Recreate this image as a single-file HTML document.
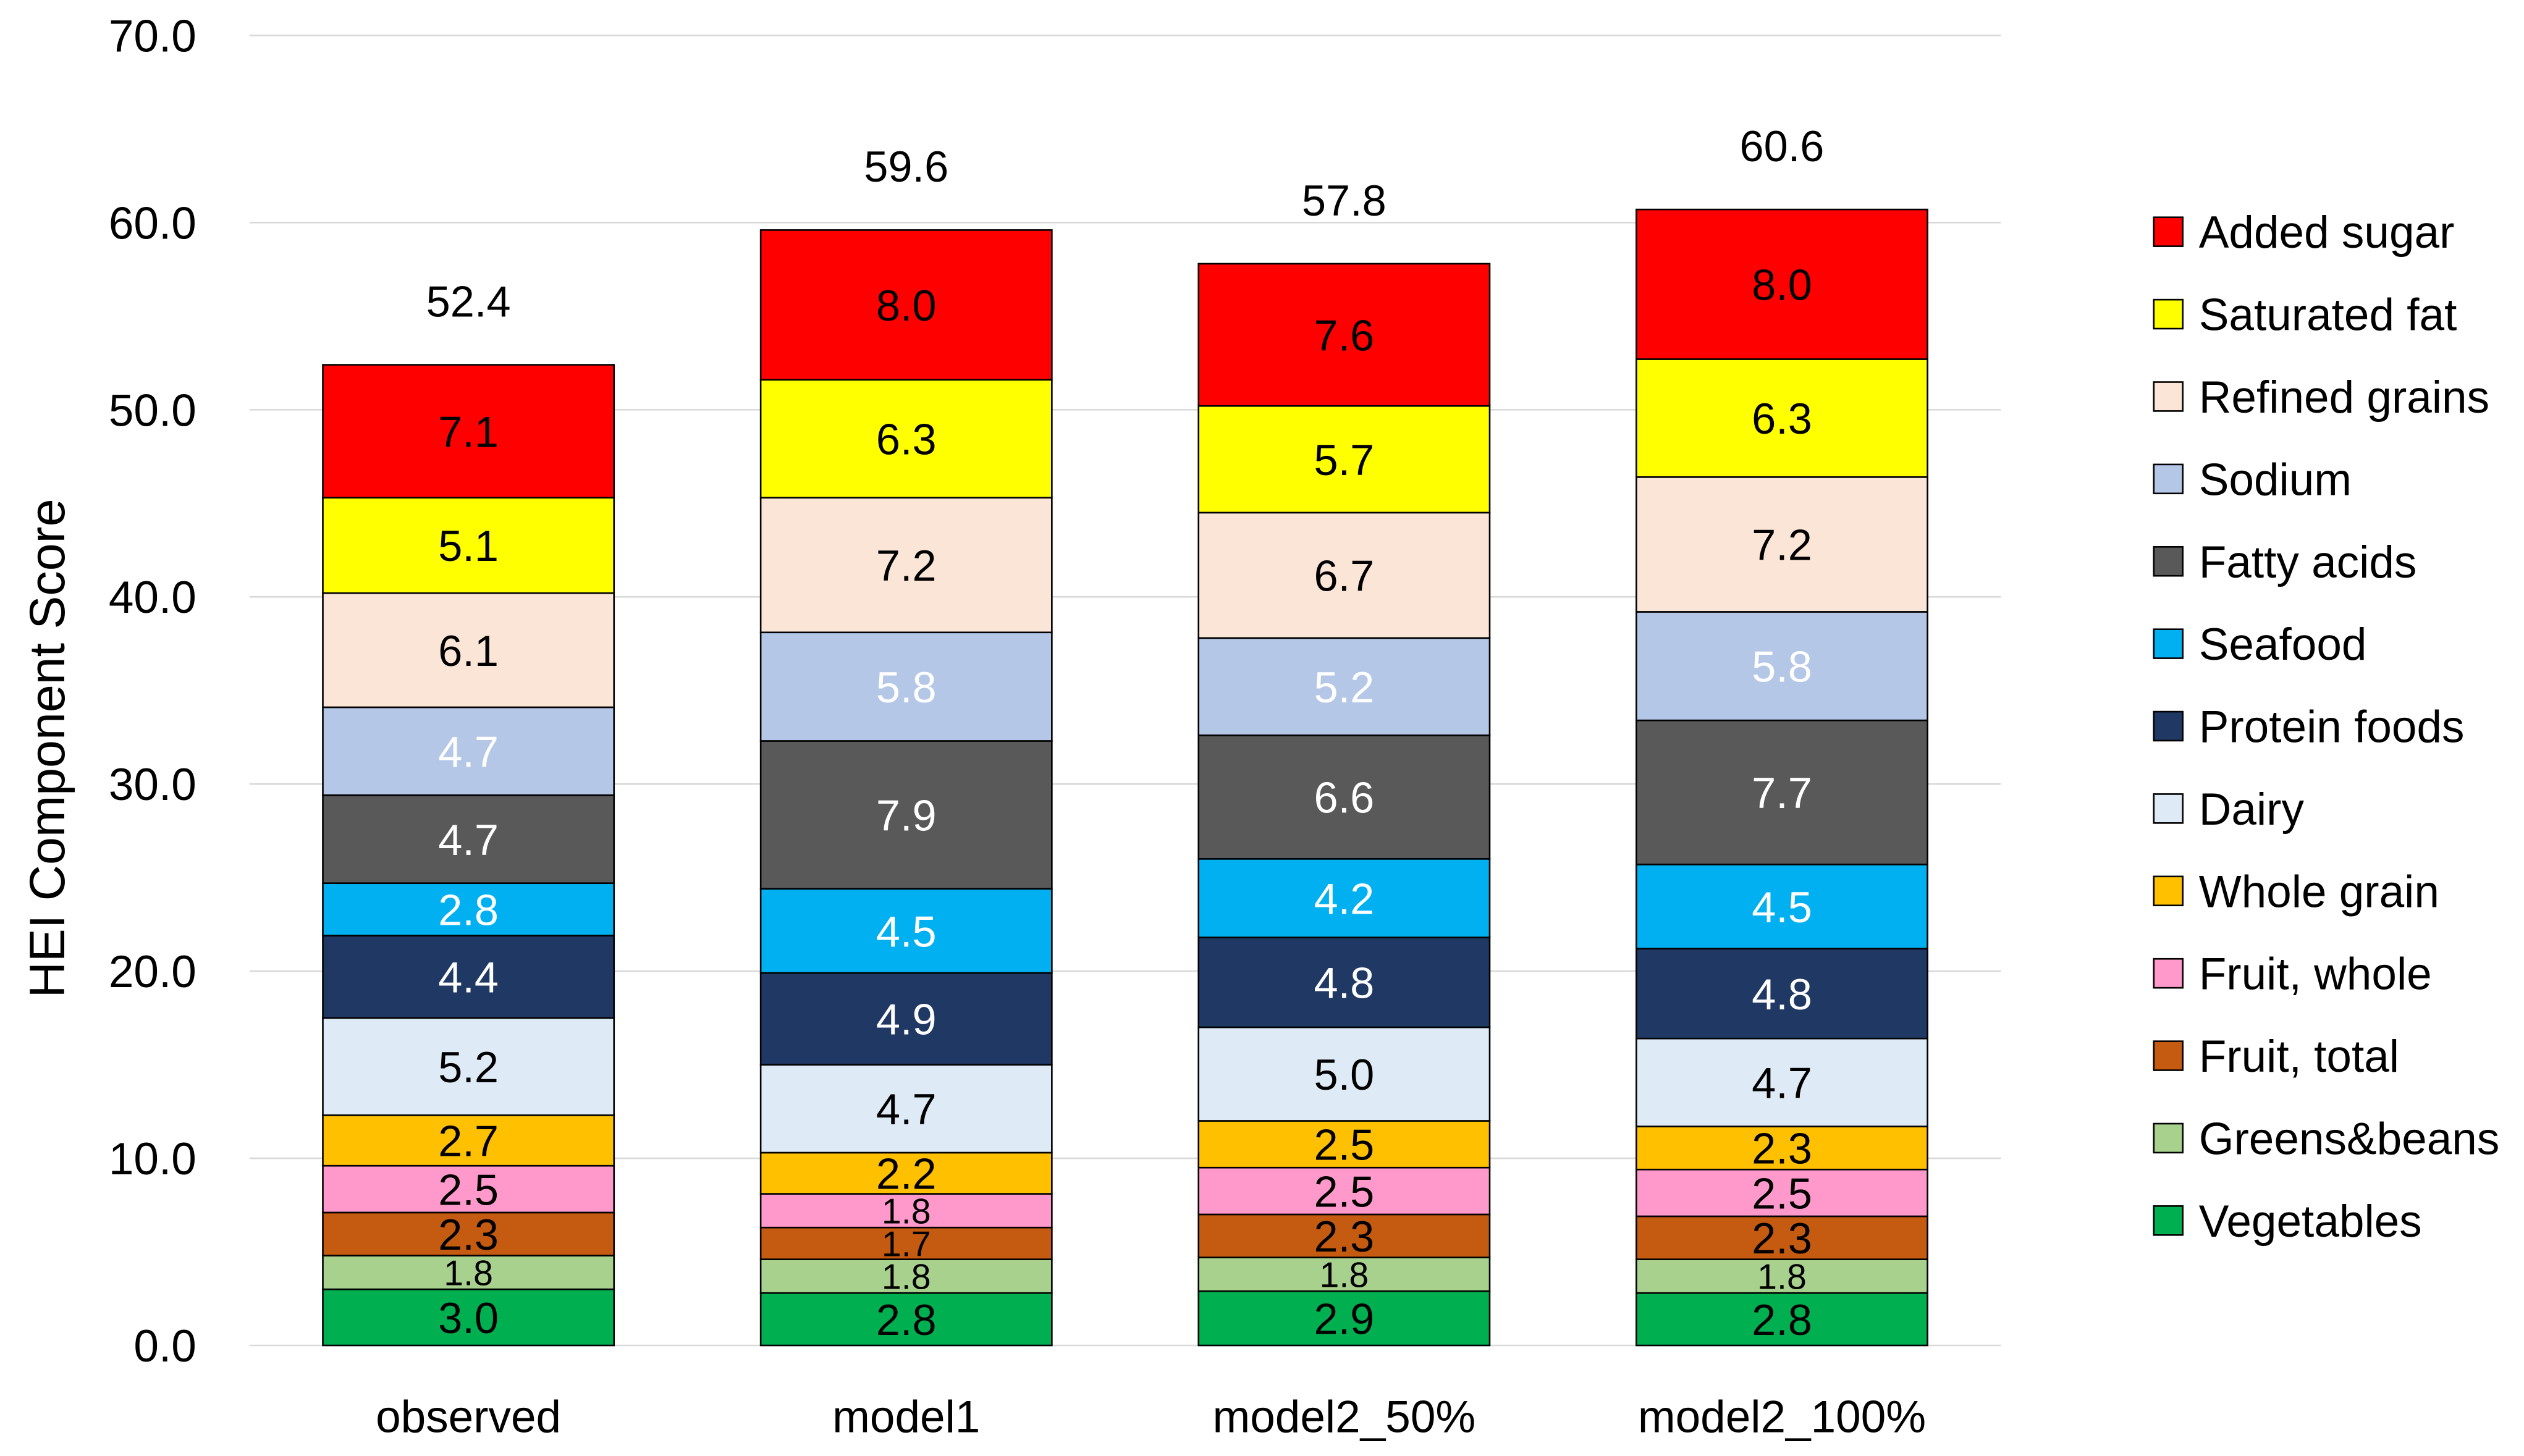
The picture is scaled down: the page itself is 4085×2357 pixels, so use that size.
<!DOCTYPE html>
<html><head><meta charset="utf-8"><style>
html,body{margin:0;padding:0;background:#fff;}
svg{display:block;font-family:"Liberation Sans",sans-serif;}
</style></head><body>
<svg id="chart" width="4085" height="2357" viewBox="0 0 1568 904.7" xmlns="http://www.w3.org/2000/svg"></svg>
<script>
const categories = ["observed","model1","model2_50%","model2_100%"];
const components = ["Vegetables","Greens&beans","Fruit, total","Fruit, whole","Whole grain","Dairy","Protein foods","Seafood","Fatty acids","Sodium","Refined grains","Saturated fat","Added sugar"];
const colors = ["#00B050","#A9D18E","#C55A11","#FF99CC","#FFC000","#DEEBF7","#203864","#00B0F0","#595959","#B4C7E7","#FBE5D6","#FFFF00","#FF0000"];
const whiteText = [false,false,false,false,false,false,true,true,true,true,false,false,false];
const observedVals = [3.0,1.8,2.3,2.5,2.7,5.2,4.4,2.8,4.7,4.7,6.1,5.1,7.1];
const model1Vals = [2.8,1.8,1.7,1.8,2.2,4.7,4.9,4.5,7.9,5.8,7.2,6.3,8.0];
const model2_50Vals = [2.9,1.8,2.3,2.5,2.5,5.0,4.8,4.2,6.6,5.2,6.7,5.7,7.6];
const model2_100Vals = [2.8,1.8,2.3,2.5,2.3,4.7,4.8,4.5,7.7,5.8,7.2,6.3,8.0];
const totals = [52.4,59.6,57.8,60.6];
const yTicks = [0,10,20,30,40,50,60,70];
const seriesByCat = [observedVals,model1Vals,model2_50Vals,model2_100Vals];

const NS="http://www.w3.org/2000/svg";
const svg=document.getElementById('chart');
const plotL=155, plotR=1243, y0=836, y70=22;
const y=v=>y0-(v/70)*(y0-y70);
const band=(plotR-plotL)/categories.length;
const xc=i=>plotL+band*(i+0.5);
const bw=band*0.665;
function mk(tag,attrs,text){const e=document.createElementNS(NS,tag);for(const k in attrs)e.setAttribute(k,attrs[k]);if(text!==undefined)e.textContent=text;svg.appendChild(e);return e;}

yTicks.forEach(t=>{
  const g=mk('line',{x1:plotL,x2:plotR,y1:y(t),y2:y(t),stroke:'#d9d9d9','stroke-width':1});
  
  
  const l=mk('text',{x:122,y:y(t)+10,'text-anchor':'end','font-size':28,fill:'#000'},t.toFixed(1));
  
  
});
const yt=mk('text',{x:0,y:0,transform:'translate(40,465) rotate(-90)','text-anchor':'middle','font-size':31,fill:'#000'},'HEI Component Score');



categories.forEach((c,i)=>{
  let cum=0;
  const vals=seriesByCat[i];
  vals.forEach((v,j)=>{
    const top=y(cum+v), bot=y(cum);
    const r=mk('rect',{x:xc(i)-bw/2,y:top,width:bw,height:bot-top,fill:colors[j],stroke:'#000','stroke-width':1});
    
    
    const small=v<=2.0;
    const fs=small?22:27;
    const t=mk('text',{x:xc(i),y:(top+bot)/2+fs*0.36,'text-anchor':'middle','font-size':fs,fill:whiteText[j]?'#fff':'#000'},v.toFixed(1));
    
    
    cum+=v;
  });
  const tl=mk('text',{x:xc(i),y:y(cum)-30,'text-anchor':'middle','font-size':27,fill:'#000'},totals[i].toFixed(1));
  
  
  const cl=mk('text',{x:xc(i),y:890,'text-anchor':'middle','font-size':28,fill:'#000'},c);
  
  
});

for(let k=0;k<components.length;k++){
  const j=components.length-1-k;
  const ly=144+k*51.2;
  const sq=mk('rect',{x:1338,y:ly-9,width:18,height:18,fill:colors[j],stroke:'#000','stroke-width':1});
  
  
  const lt=mk('text',{x:1366,y:ly+10,'font-size':28,fill:'#000'},components[j]);
  
  
}
</script>
</body></html>
